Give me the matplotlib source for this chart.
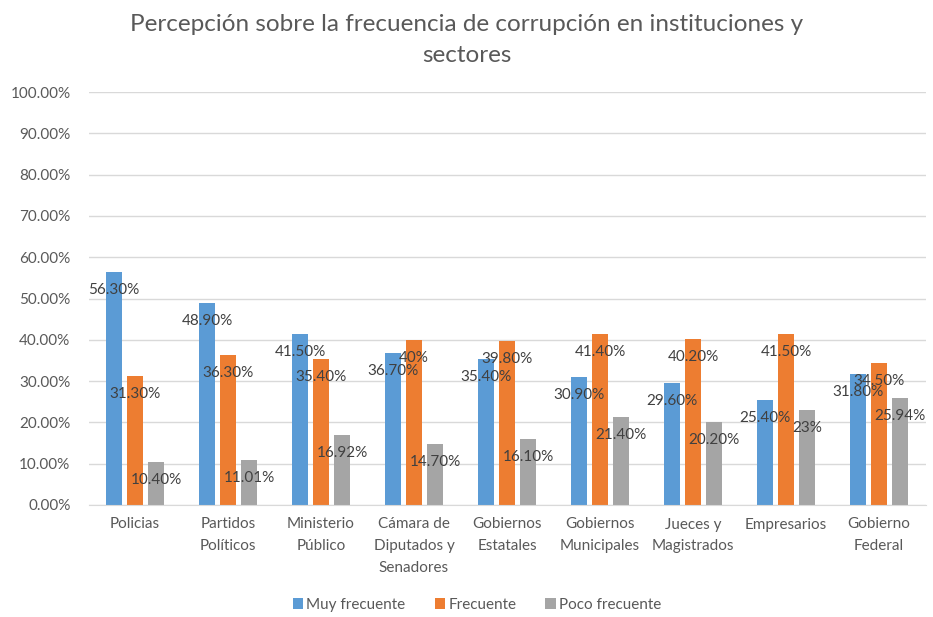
import numpy as np
import matplotlib
matplotlib.use("Agg")
import matplotlib.pyplot as plt
from matplotlib.ticker import FuncFormatter

# perception of corruption frequency by institution

categories = ["Policias", "Partidos\nPolíticos", "Ministerio\nPúblico",
              "Cámara de\nDiputados y\nSenadores", "Gobiernos\nEstatales",
              "Gobiernos\nMunicipales", "Jueces y\nMagistrados", "Empresarios",
              "Gobierno\nFederal"]
muy_frecuente = [56.30, 48.90, 41.50, 36.70, 35.40, 30.90, 29.60, 25.40, 31.80]
frecuente = [31.30, 36.30, 35.40, 40.00, 39.80, 41.40, 40.20, 41.50, 34.50]
poco_frecuente = [10.40, 11.01, 16.92, 14.70, 16.10, 21.40, 20.20, 23.00, 25.94]
muy_labels = ["56.30%", "48.90%", "41.50%", "36.70%", "35.40%", "30.90%", "29.60%", "25.40%", "31.80%"]
frec_labels = ["31.30%", "36.30%", "35.40%", "40%", "39.80%", "41.40%", "40.20%", "41.50%", "34.50%"]
poco_labels = ["10.40%", "11.01%", "16.92%", "14.70%", "16.10%", "21.40%", "20.20%", "23%", "25.94%"]

plt.rcParams['font.family'] = ['Lato', 'DejaVu Sans']

fig = plt.figure(figsize=(9.33, 6.17), dpi=100)
ax = fig.add_axes([88.5 / 933, 1 - 505 / 617, 837 / 933, 413 / 617])

x = np.arange(len(categories))
w = 0.172
off = 0.226
series = [(muy_frecuente, muy_labels, "#5B9BD5", "Muy frecuente", -off),
          (frecuente, frec_labels, "#ED7D31", "Frecuente", 0),
          (poco_frecuente, poco_labels, "#A5A5A5", "Poco frecuente", off)]

for vals, labs, col, name, dx in series:
    ax.bar(x + dx, vals, width=w, color=col, label=name, zorder=2)
    for xi, v, lab in zip(x + dx, vals, labs):
        ax.annotate(lab, (xi, v), xytext=(0, -18), textcoords="offset pixels",
                    ha="center", va="center", fontsize=11, color="#404040", zorder=3)

ax.set_xlim(-0.5, len(categories) - 0.5)
ax.set_ylim(0, 100)
ax.set_yticks(np.arange(0, 101, 10))
ax.yaxis.set_major_formatter(FuncFormatter(lambda v, p: f"{v:.2f}%"))
ax.grid(axis="y", color="#D9D9D9", linewidth=1, zorder=0)
ax.set_xticks(x)
ax.set_xticklabels(categories, fontsize=11, color="#595959", linespacing=1.7)
ax.tick_params(axis="y", length=0, pad=13, labelsize=11, labelcolor="#595959")
ax.tick_params(axis="x", length=0, pad=9)
for s in ["top", "right", "left"]:
    ax.spines[s].set_visible(False)
ax.spines["bottom"].set_color("#D9D9D9")

fig.suptitle("Percepción sobre la frecuencia de corrupción en instituciones y\nsectores",
             y=0.978, fontsize=17.5, color="#595959", linespacing=1.6)

fig.legend(loc="center", bbox_to_anchor=(477 / 933, 1 - 605 / 617), ncol=3, frameon=False,
           fontsize=11, labelcolor="#595959", handlelength=0.7, handleheight=0.7,
           handletextpad=0.2, columnspacing=1.9)

plt.savefig("out.png", dpi=100)
plt.close()
